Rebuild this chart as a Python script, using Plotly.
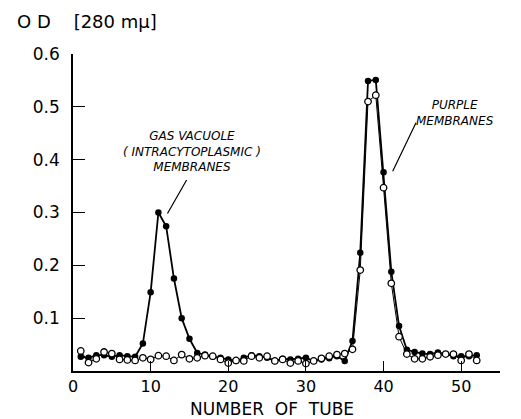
import plotly.graph_objects as go

tubes = list(range(1, 53))

od_filled = [0.027, 0.025, 0.030, 0.030, 0.027, 0.030, 0.028, 0.027, 0.052, 0.149,
             0.300, 0.274, 0.175, 0.100, 0.061, 0.034, 0.031, 0.027, 0.025, 0.022,
             0.019, 0.025, 0.030, 0.028, 0.025, 0.019, 0.023, 0.022, 0.023, 0.025,
             0.019, 0.022, 0.024, 0.028, 0.019, 0.057, 0.224, 0.549, 0.551, 0.376,
             0.188, 0.085, 0.040, 0.036, 0.033, 0.032, 0.035, 0.032, 0.028, 0.028,
             0.028, 0.030]

od_open = [0.038, 0.016, 0.023, 0.036, 0.033, 0.022, 0.021, 0.020, 0.025, 0.022,
           0.029, 0.028, 0.020, 0.031, 0.023, 0.025, 0.029, 0.028, 0.022, 0.015,
           0.020, 0.019, 0.028, 0.025, 0.028, 0.019, 0.022, 0.015, 0.019, 0.014,
           0.019, 0.024, 0.028, 0.031, 0.033, 0.041, 0.191, 0.510, 0.522, 0.347,
           0.166, 0.065, 0.032, 0.023, 0.023, 0.027, 0.030, 0.032, 0.032, 0.020,
           0.032, 0.020]

x_ticks = [0, 10, 20, 30, 40, 50]
y_ticks = [0.1, 0.2, 0.3, 0.4, 0.5, 0.6]
y_tick_text = ["0.1", "0.2", "0.3", "0.4", "0.5", "0.6"]

FONT = "DejaVu Sans"

fig = go.Figure()
fig.add_trace(go.Scatter(
    x=tubes, y=od_filled, mode="lines+markers",
    line=dict(color="black", width=1.8),
    marker=dict(symbol="circle", size=6.5, color="black"),
    showlegend=False))
fig.add_trace(go.Scatter(
    x=tubes, y=od_open, mode="lines+markers",
    line=dict(color="black", width=1.0),
    marker=dict(symbol="circle", size=6.5, color="white",
                line=dict(color="black", width=1.3)),
    showlegend=False))

fig.update_layout(
    width=521, height=419,
    margin=dict(l=65, r=29, t=46, b=56),
    paper_bgcolor="white", plot_bgcolor="white",
    font=dict(family=FONT, color="black"),
    xaxis=dict(range=[0, 55], tickvals=x_ticks, showgrid=False, zeroline=False,
               showline=True, linecolor="black", linewidth=1.5,
               ticks="inside", ticklen=10, tickwidth=1.3, tickcolor="black",
               tickfont=dict(size=16, family=FONT), ticklabelstandoff=0),
    yaxis=dict(range=[0, 0.6], tickvals=y_ticks, ticktext=y_tick_text,
               showgrid=False, zeroline=False,
               showline=True, linecolor="black", linewidth=1.5,
               ticks="inside", ticklen=12, tickwidth=1.3, tickcolor="black",
               tickfont=dict(size=17, family=FONT), ticklabelstandoff=8),
)

# axis titles
fig.add_annotation(text="NUMBER&nbsp; OF&nbsp; TUBE", xref="paper", yref="paper",
                   x=0.466, y=-0.121, yanchor="middle", showarrow=False,
                   font=dict(size=17, family=FONT))
fig.add_annotation(text="O D &nbsp;&nbsp; [280 mμ]", xref="paper", yref="paper",
                   x=-0.135, y=1.1025, xanchor="left", yanchor="middle", showarrow=False,
                   font=dict(size=18, family=FONT))

# peak labels
fig.add_annotation(text="<i>GAS VACUOLE<br>( INTRACYTOPLASMIC )<br>MEMBRANES</i>",
                   xref="paper", yref="paper", x=0.2792, y=0.6934,
                   showarrow=False, font=dict(size=12, family=FONT), align="center",
                   xanchor="center", yanchor="middle")
fig.add_annotation(text="<i>PURPLE<br>MEMBRANES</i>",
                   xref="paper", yref="paper", x=0.8947, y=0.815,
                   showarrow=False, font=dict(size=12, family=FONT), align="center",
                   xanchor="center", yanchor="middle")

# leader lines
fig.add_annotation(text="", x=12.17, y=0.298, xref="x", yref="y",
                   ax=20, ay=-35, showarrow=True, arrowhead=0, arrowwidth=1.2,
                   arrowcolor="black")
fig.add_annotation(text="", x=41.18, y=0.378, xref="x", yref="y",
                   ax=24, ay=-50, showarrow=True, arrowhead=0, arrowwidth=1.2,
                   arrowcolor="black")

fig.write_html("out.html")
